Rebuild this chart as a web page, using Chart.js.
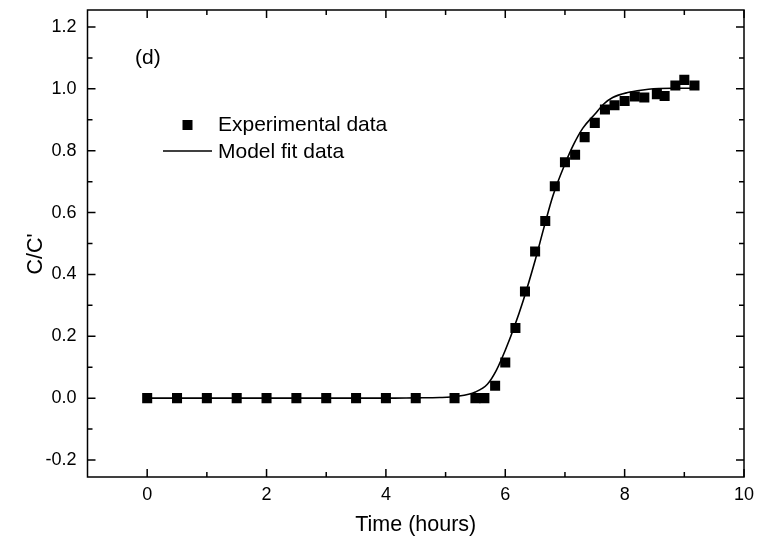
<!DOCTYPE html>
<html>
<head>
<meta charset="utf-8">
<script src="https://cdn.jsdelivr.net/npm/chart.js@4/dist/chart.umd.min.js"></script>
<style>
  html, body { margin: 0; padding: 0; background: #fff; }
  #wrap { width: 758px; height: 548px; }
</style>
</head>
<body>
<div id="wrap"><canvas id="c" width="758" height="548"></canvas></div>
<script>
// ---- data ----
const expTime = [0, 0.5, 1, 1.5, 2, 2.5, 3, 3.5, 4, 4.5, 5.15, 5.5, 5.65, 5.83, 6.0, 6.17, 6.33, 6.5, 6.67, 6.83, 7.0, 7.17, 7.33, 7.5, 7.67, 7.83, 8.0, 8.17, 8.33, 8.54, 8.67, 8.85, 9.0, 9.17];
const expValue = [0, 0, 0, 0, 0, 0, 0, 0, 0, 0, 0, 0, 0, 0.04, 0.115, 0.227, 0.345, 0.474, 0.573, 0.685, 0.763, 0.787, 0.844, 0.890, 0.933, 0.947, 0.961, 0.975, 0.972, 0.983, 0.977, 1.011, 1.029, 1.011];

const modelTime = [0, 1, 2, 3, 4, 4.5, 4.9, 5.2, 5.5, 5.7, 5.85, 6.0, 6.15, 6.3, 6.5, 6.65, 6.8, 7.0, 7.15, 7.3, 7.5, 7.65, 7.8, 8.05, 8.4, 8.8, 9.2];
const modelValue = [0, 0, 0, 0, 0, 0.001, 0.002, 0.006, 0.02, 0.045, 0.09, 0.155, 0.23, 0.315, 0.445, 0.553, 0.655, 0.757, 0.822, 0.873, 0.918, 0.951, 0.972, 0.988, 0.999, 1.002, 1.002];

const xTickValues = [0, 2, 4, 6, 8, 10];
const xMinorValues = [1, 3, 5, 7, 9];
const yTickValues = [-0.2, 0, 0.2, 0.4, 0.6, 0.8, 1.0, 1.2];
const yMinorValues = [-0.1, 0.1, 0.3, 0.5, 0.7, 0.9, 1.1];

const xTitle = 'Time (hours)';
const yTitle = "C/C'";
const seriesNames = ['Experimental data', 'Model fit data'];
const panelLabel = '(d)';

const FONT = "'Liberation Sans', Arial, sans-serif";

const frameTicks = {
  id: 'frameTicks',
  afterDatasetsDraw(chart) {
    const { ctx, chartArea: { left, right, top, bottom }, scales: { x, y } } = chart;
    ctx.save();
    ctx.strokeStyle = '#000';
    ctx.lineWidth = 1.5;
    ctx.strokeRect(left, top, right - left, bottom - top);
    const major = 8, minor = 5;
    ctx.beginPath();
    const hx = (v, len) => {
      const px = x.getPixelForValue(v);
      ctx.moveTo(px, bottom); ctx.lineTo(px, bottom - len);
      ctx.moveTo(px, top); ctx.lineTo(px, top + len);
    };
    const vy = (v, len) => {
      const py = y.getPixelForValue(v);
      ctx.moveTo(left, py); ctx.lineTo(left + len, py);
      ctx.moveTo(right, py); ctx.lineTo(right - len, py);
    };
    xTickValues.forEach(v => hx(v, major));
    xMinorValues.forEach(v => hx(v, minor));
    yTickValues.forEach(v => vy(v, major));
    yMinorValues.forEach(v => vy(v, minor));
    ctx.stroke();

    // panel label and legend
    ctx.fillStyle = '#000';
    ctx.font = '21px ' + FONT;
    ctx.textBaseline = 'middle';
    ctx.textAlign = 'left';
    ctx.fillText(panelLabel, 135, 58);
    ctx.fillRect(182.5, 120, 10, 10);
    ctx.fillText(seriesNames[0], 218, 125);
    ctx.beginPath();
    ctx.lineWidth = 1.5;
    ctx.moveTo(163, 151); ctx.lineTo(212, 151);
    ctx.stroke();
    ctx.fillText(seriesNames[1], 218, 152);

    // y axis title
    ctx.save();
    ctx.translate(36, 254);
    ctx.rotate(-Math.PI / 2);
    ctx.textAlign = 'center';
    ctx.textBaseline = 'middle';
    ctx.font = '21.5px ' + FONT;
    ctx.fillText(yTitle, 0, 0);
    ctx.restore();
    ctx.restore();
  }
};

new Chart(document.getElementById('c'), {
  type: 'scatter',
  data: {
    datasets: [
      {
        label: seriesNames[0],
        data: expTime.map((t, i) => ({ x: t, y: expValue[i] })),
        showLine: false,
        pointStyle: 'rect',
        pointRadius: 7.1,
        pointBackgroundColor: '#000',
        pointBorderColor: '#000',
        pointBorderWidth: 0
      },
      {
        label: seriesNames[1],
        data: modelTime.map((t, i) => ({ x: t, y: modelValue[i] })),
        showLine: true,
        borderColor: '#000',
        borderWidth: 1.6,
        pointRadius: 0,
        cubicInterpolationMode: 'monotone',
        fill: false
      }
    ]
  },
  plugins: [frameTicks],
  options: {
    responsive: false,
    animation: false,
    events: [],
    layout: { padding: { left: 0, right: 14, top: 0, bottom: 0 } },
    plugins: { legend: { display: false }, tooltip: { enabled: false } },
    scales: {
      x: {
        type: 'linear',
        min: -1, max: 10,
        afterBuildTicks: s => { s.ticks = xTickValues.map(v => ({ value: v })); },
        afterFit: s => { s.height = 71; s.paddingLeft = 0; s.paddingRight = 0; },
        grid: { display: false, drawTicks: false },
        border: { display: false },
        ticks: { color: '#000', font: { family: FONT, size: 18 }, padding: 7, maxRotation: 0, autoSkip: false,
                  callback: v => String(v) },
        title: { display: true, text: xTitle, color: '#000', font: { family: FONT, size: 21.5 }, padding: { top: 0, bottom: 10 } }
      },
      y: {
        type: 'linear',
        min: -0.255, max: 1.255,
        afterBuildTicks: s => { s.ticks = yTickValues.map(v => ({ value: v })); },
        afterFit: s => { s.width = 87.5; s.paddingTop = 10; s.paddingBottom = 0; },
        grid: { display: false, drawTicks: false },
        border: { display: false },
        ticks: { color: '#000', font: { family: FONT, size: 18 }, padding: 11, autoSkip: false,
                 callback: v => Number(v).toFixed(1) },
        title: { display: false }
      }
    }
  }
});
</script>
</body>
</html>
